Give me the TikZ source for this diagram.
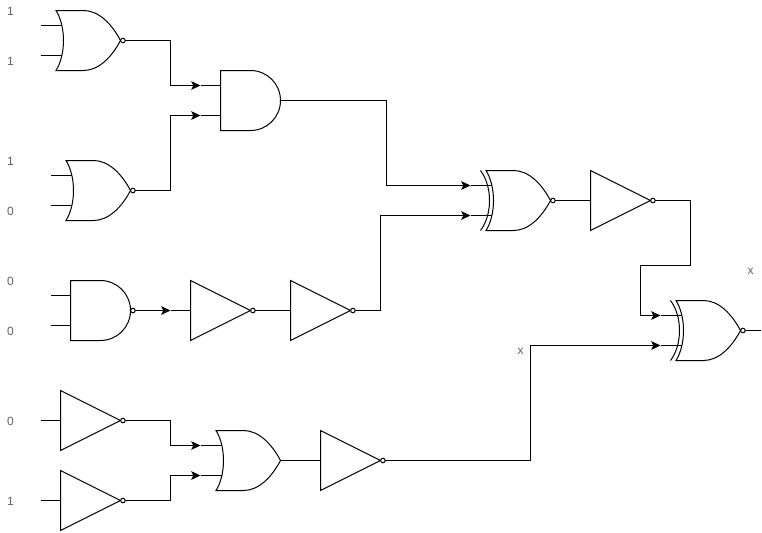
\documentclass[tikz,border=0pt]{standalone}
\usepackage{fontspec}
\setmainfont{Liberation Sans}
\usetikzlibrary{arrows.meta}

\newcommand{\orbody}{(15.5,-30) -- (43,-30) .. controls (58,-30) and (71,-17) .. (80,0) .. controls (71,17) and (58,30) .. (43,30) -- (15.5,30) .. controls (25.5,14) and (25.5,-14) .. (15.5,-30) -- cycle}
\newcommand{\andbody}{(20,-30) -- (50,-30) .. controls (66.6,-30) and (80,-16.6) .. (80,0) .. controls (80,16.6) and (66.6,30) .. (50,30) -- (20,30) -- cycle}
\newcommand{\gatepins}{\coordinate (-a) at (0,-15); \coordinate (-b) at (0,15); \coordinate (-y) at (100,0);}

\tikzset{
    wire/.style={line width=0.75pt, black},
    feed/.style={wire, -{Stealth[length=7pt,width=6.5pt,inset=1.6pt]}},
    tag/.style={text=black!62, font=\fontsize{9pt}{9pt}\selectfont, inner sep=0pt},
    bubble/.pic={\draw[wire, fill=white] (82.4,0) circle (1.7pt);},
    pics/orgate/.style={code={
        \gatepins
        \draw[wire] \orbody;
        \draw[wire] (0,-15) -- (21.6,-15) (0,15) -- (21.6,15) (80,0) -- (100,0);
    }},
    pics/norgate/.style={code={
        \gatepins
        \draw[wire] \orbody;
        \draw[wire] (0,-15) -- (21.6,-15) (0,15) -- (21.6,15) (80,0) -- (100,0);
        \pic {bubble};
    }},
    pics/xnorgate/.style={code={
        \gatepins
        \draw[wire] \orbody;
        \draw[wire] (10,-30) .. controls (22,-14) and (22,14) .. (10,30);
        \draw[wire] (0,-15) -- (21.6,-15) (0,15) -- (21.6,15) (80,0) -- (100,0);
        \pic {bubble};
    }},
    pics/andgate/.style={code={
        \gatepins
        \draw[wire] \andbody;
        \draw[wire] (0,-15) -- (20,-15) (0,15) -- (20,15) (80,0) -- (100,0);
    }},
    pics/nandgate/.style={code={
        \gatepins
        \draw[wire] \andbody;
        \draw[wire] (0,-15) -- (20,-15) (0,15) -- (20,15) (80,0) -- (100,0);
        \pic {bubble};
    }},
    pics/notgate/.style={code={
        \coordinate (-a) at (0,0);
        \coordinate (-y) at (100,0);
        \draw[wire] (20,-30) -- (80,0) -- (20,30) -- cycle;
        \draw[wire] (0,0) -- (20,0) (80,0) -- (100,0);
        \pic {bubble};
    }},
}

\begin{document}
\begin{tikzpicture}[x=0.75pt, y=-0.75pt]
    \useasboundingbox (-0.5,-0.5) rectangle (761.5,531.5);

    \pic (nor1) at (40,40) {norgate};
    \pic (nor2) at (50,190) {norgate};
    \pic (nand1) at (50,310) {nandgate};
    \pic (not1) at (170,310) {notgate};
    \pic (not2) at (270,310) {notgate};
    \pic (not3) at (40,420) {notgate};
    \pic (not4) at (40,500) {notgate};
    \pic (and1) at (200,100) {andgate};
    \pic (or1) at (200,460) {orgate};
    \pic (not5) at (300,460) {notgate};
    \pic (xnor1) at (470,200) {xnorgate};
    \pic (not6) at (570,200) {notgate};
    \pic (xnor2) at (660,330) {xnorgate};

    \node[tag] (n1) at (10,11) {1};
    \node[tag] (n2) at (10,61) {1};
    \node[tag] (n3) at (10,161) {1};
    \node[tag] (n4) at (10,211) {0};
    \node[tag] (n5) at (10,281) {0};
    \node[tag] (n6) at (10,331) {0};
    \node[tag] (n7) at (10,421) {0};
    \node[tag] (n8) at (10,501) {1};
    \node[tag] (x1) at (520,351) {x};
    \node[tag] (x2) at (750,271) {x};

    \draw[feed] (nor1-y) -- ++(30,0) |- (and1-a);
    \draw[feed] (nor2-y) -- ++(20,0) |- (and1-b);
    \draw[feed] (nand1-y) -- (not1-a);
    \draw[wire] (not1-y) -- (not2-a);
    \draw[feed] (not3-y) -- ++(30,0) |- (or1-a);
    \draw[feed] (not4-y) -- ++(30,0) |- (or1-b);
    \draw[wire] (or1-y) -- (not5-a);
    \draw[feed] (and1-y) -- ++(86,0) |- (xnor1-a);
    \draw[feed] (not2-y) -- ++(10,0) |- (xnor1-b);
    \draw[wire] (xnor1-y) -- (not6-a);
    \draw[feed] (not6-y) -- ++(20,0) -- ++(0,65) -- ++(-50,0) |- (xnor2-a);
    \draw[feed] (not5-y) -- ++(130,0) |- (xnor2-b);
\end{tikzpicture}
\end{document}
